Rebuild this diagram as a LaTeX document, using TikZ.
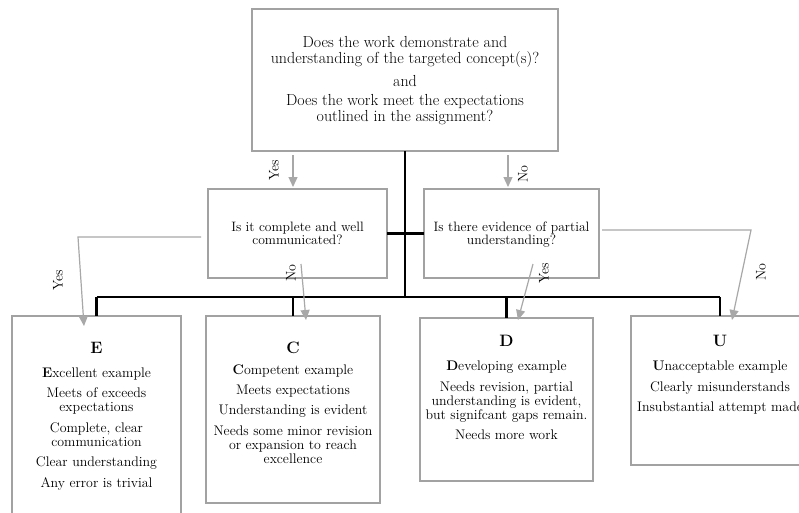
\documentclass[tikz,border=0pt]{standalone}
\usetikzlibrary{arrows.meta}
\definecolor{boxgray}{RGB}{162,162,162}
\definecolor{arrgray}{RGB}{168,168,168}
\tikzset{
  box/.style={draw=boxgray, line width=1.1pt, inner sep=0pt, outer sep=0pt},
  bodytext/.style={inner sep=0pt, anchor=base, font=\fontsize{13.9}{14}\selectfont},
  toptext/.style={inner sep=0pt, anchor=base, font=\fontsize{16}{15}\selectfont},
  midtext/.style={inner sep=0pt, anchor=base, font=\fontsize{13.6}{13.5}\selectfont},
  lbl/.style={inner sep=0pt, rotate=90, font=\fontsize{14}{14}\selectfont},
  trunk/.style={line width=2.4pt, black},
  garr/.style={draw=arrgray, line width=1.2pt, -{Triangle[length=10pt,width=9pt]}},
}
\newcommand{\gradetitle}[1]{{\fontsize{16.5}{16}\selectfont\bfseries #1}}
\begin{document}
\begin{tikzpicture}[x=1pt,y=-1pt]
\useasboundingbox (0,0) rectangle (799,512);
\fill[white] (0,0) rectangle (799,512);

% boxes
\node[box, minimum width=306pt, minimum height=142pt] (top) at (405,80) {};
\node[box, minimum width=179pt, minimum height=89pt] (L) at (297.5,233.5) {};
\node[box, minimum width=175pt, minimum height=89pt] (R) at (511.5,233.5) {};
\node[box, minimum width=169pt, minimum height=214pt] (E) at (96.5,423) {};
\node[box, minimum width=174pt, minimum height=187pt] (C) at (293,409.5) {};
\node[box, minimum width=173pt, minimum height=163pt] (D) at (506.5,399.5) {};
\node[box, minimum width=178pt, minimum height=149pt] (U) at (720,390.5) {};

% texts
\node[toptext] (toptx) at (405,47) {\begin{tabular}[t]{@{}c@{}}
Does the work demonstrate and\\
understanding of the targeted concept(s)?\\[7pt]
and\\[4pt]
Does the work meet the expectations\\
outlined in the assignment?
\end{tabular}};

\node[midtext] (Ltx) at (297.5,231) {\begin{tabular}[t]{@{}c@{}}
Is it complete and well\\ communicated?\end{tabular}};
\node[midtext] (Rtx) at (511.5,231) {\begin{tabular}[t]{@{}c@{}}
Is there evidence of partial\\ understanding?\end{tabular}};

\node[bodytext] (Etx) at (96.5,353) {\begin{tabular}[t]{@{}c@{}}
\gradetitle{E}\\[10pt]
\textbf{E}xcellent example\\[6.5pt]
Meets of exceeds\\ expectations\\[6.5pt]
Complete, clear\\ communication\\[6.5pt]
Clear understanding\\[6.5pt]
Any error is trivial
\end{tabular}};

\node[bodytext] (Ctx) at (293,353) {\begin{tabular}[t]{@{}c@{}}
\gradetitle{C}\\[7pt]
\textbf{C}ompetent example\\[6pt]
Meets expectations\\[6pt]
Understanding is evident\\[7.5pt]
Needs some minor revision\\ or expansion to reach\\ excellence
\end{tabular}};

\node[bodytext] (Dtx) at (506.5,346) {\begin{tabular}[t]{@{}c@{}}
\gradetitle{D}\\[10pt]
\textbf{D}eveloping example\\[7pt]
Needs revision, partial\\ understanding is evident,\\ but signifcant gaps remain.\\[6pt]
Needs more work
\end{tabular}};

\node[bodytext] (Utx) at (720,346) {\begin{tabular}[t]{@{}c@{}}
\gradetitle{U}\\[10pt]
\textbf{U}nacceptable example\\[7pt]
Clearly misunderstands\\[6pt]
Insubstantial attempt made
\end{tabular}};

% black connectors
\coordinate (bus) at (405,297);
\draw[trunk] (top.south) -- (bus);
\draw[trunk] (L.east) -- (R.west);
\draw[trunk] (E.north |- bus) -- (U.north |- bus);
\draw[trunk] (E.north |- bus) -- (E.north);
\draw[trunk] (C.north |- bus) -- (C.north);
\draw[trunk] (D.north |- bus) -- (D.north);
\draw[trunk] (U.north |- bus) -- (U.north);

% gray arrows
\coordinate (ya0) at (293,155);
\coordinate (na0) at (508,155);
\draw[garr, shorten >=2pt] (ya0) -- (ya0 |- L.north);
\draw[garr, shorten >=2pt] (na0) -- (na0 |- R.north);

\coordinate (ye0) at (201,237);
\coordinate (ye1) at (78,237);
\coordinate (ye2) at (84,326);
\draw[garr] (ye0) -- (ye1) -- (ye2);

\coordinate (nc0) at (301,264);
\coordinate (nc1) at (306,320);
\draw[garr] (nc0) -- (nc1);

\coordinate (yd0) at (533,264);
\coordinate (yd1) at (518,320);
\draw[garr] (yd0) -- (yd1);

\coordinate (nu0) at (602,230);
\coordinate (nu1) at (751,230);
\coordinate (nu2) at (732,320);
\draw[garr] (nu0) -- (nu1) -- (nu2);

% labels
\node[lbl] (lyes1) at (274,170) {Yes};
\node[lbl] (lno1) at (523,174) {No};
\node[lbl] (lyesE) at (58,280) {Yes};
\node[lbl] (lnoC) at (291,273) {No};
\node[lbl] (lyesD) at (544,273) {Yes};
\node[lbl] (lnoU) at (761,272) {No};
\end{tikzpicture}
\end{document}
